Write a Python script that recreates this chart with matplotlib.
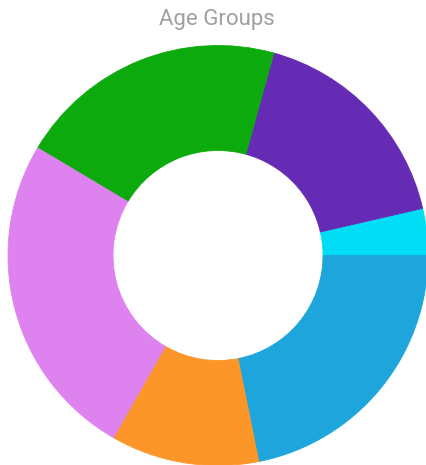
import matplotlib
matplotlib.use("Agg")
import matplotlib.pyplot as plt

# age group shares, counter-clockwise from 3 o'clock
groups = ["A", "B", "C", "D", "E", "F"]
shares = [3.6, 17.1, 20.7, 25.3, 11.4, 21.8]
colors = ["#00DDF5", "#662BB5", "#0DAA0D", "#DE82F0", "#FC9628", "#1EA5DC"]

W, H = 426, 465
fig = plt.figure(figsize=(W / 100, H / 100), dpi=100)

cx, cy, R = 218, 255.5, 210
ax = fig.add_axes([(cx - R) / W, (H - cy - R) / H, 2 * R / W, 2 * R / H])
wedges, _ = ax.pie(shares, colors=colors, startangle=0, counterclock=True,
                   radius=1, wedgeprops=dict(width=0.5, linewidth=0.6))
for w in wedges:
    w.set_edgecolor(w.get_facecolor())
ax.set_xlim(-1, 1)
ax.set_ylim(-1, 1)
ax.set_aspect("equal")
ax.axis("off")

fig.text(cx / W - 0.003, 1 - 19 / H, "Age Groups", ha="center", va="center",
         fontsize=16, color="#A0A0A0", family=["Roboto", "DejaVu Sans"])

fig.savefig("out.png", dpi=100)
